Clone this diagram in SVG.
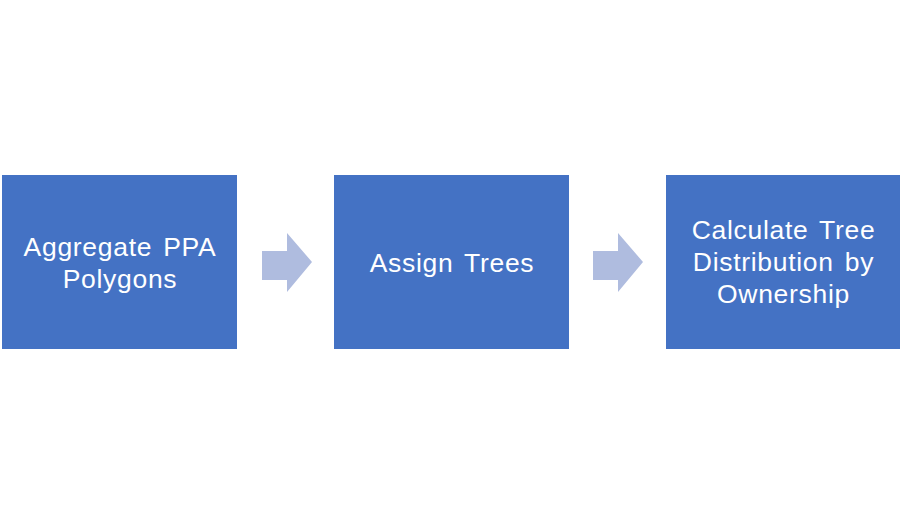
<svg xmlns="http://www.w3.org/2000/svg" width="902" height="525" viewBox="0 0 902 525">
<style>
.box{fill:#4472C4}
.arr{fill:#AFBCDF}
.t{font-family:"Liberation Sans",Arial,sans-serif;font-size:26.5px;fill:#FFFFFF;text-anchor:middle;letter-spacing:0.7px;word-spacing:3px}
</style>
<rect width="902" height="525" fill="#FFFFFF"/>
<g id="node1"><rect class="box" x="2" y="175" width="235" height="174"/>
<text class="t" x="120" y="256">Aggregate PPA</text>
<text class="t" x="120" y="288">Polygons</text></g>
<g id="node2"><rect class="box" x="334" y="175" width="235" height="174"/>
<text class="t" x="452" y="272">Assign Trees</text></g>
<g id="node3"><rect class="box" x="666" y="175" width="234" height="174"/>
<text class="t" x="783.5" y="239">Calculate Tree</text>
<text class="t" x="783.5" y="271">Distribution by</text>
<text class="t" x="783.5" y="303">Ownership</text></g>
<g id="connectors">
<polygon class="arr" points="262,251 287,251 287,233 312,262 287,292 287,280 262,280"/>
<polygon class="arr" points="593,251 618,251 618,233 643,262 618,292 618,280 593,280"/>
</g>
</svg>
